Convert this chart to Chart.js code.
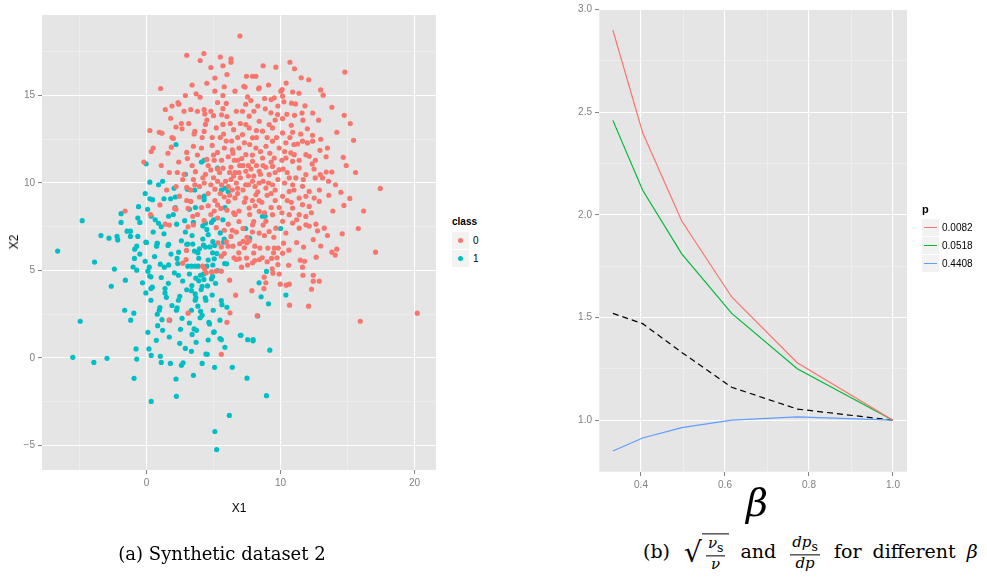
<!DOCTYPE html>
<html>
<head>
<meta charset="utf-8">
<script src="https://cdn.jsdelivr.net/npm/chart.js@4.4.1/dist/chart.umd.min.js"></script>
<style>
body { margin:0; background:#fff; width:987px; height:577px; position:relative; overflow:hidden; font-family:"Liberation Sans", Arial, sans-serif; }
canvas { position:absolute; top:0; }
#scatter { left:0; }
#ratios { left:560px; }
.lbl { position:absolute; white-space:nowrap; color:#000; }
.key { position:absolute; width:17px; height:17px; background:#F2F2F2; }
.dot { position:absolute; left:6px; top:6px; width:5px; height:5px; border-radius:50%; }
.seg { position:absolute; left:2px; top:8px; width:13px; height:1.2px; }
.leg { position:absolute; font-size:10px; color:#000; }
.cap { position:absolute; font-family:"DejaVu Serif", "Liberation Serif", serif; font-size:18px; white-space:nowrap; color:#000; }
#capb { font-size:19px; word-spacing:5px; }
.fr { display:inline-flex; flex-direction:column; vertical-align:middle; font-size:15px; text-align:center; line-height:1.1; margin:0 3px; word-spacing:0; }
.fr .nu { border-bottom:1px solid #000; padding:0 2px; }
.ovl { display:inline-block; border-top:1px solid #000; padding:1px 1px 0 1px; vertical-align:middle; }
.rt { font-size:28px; vertical-align:middle; margin-left:3px; }
</style>
</head>
<body>
<canvas id="scatter" width="440" height="530"></canvas>
<canvas id="ratios" width="427" height="530"></canvas>

<div class="lbl" style="left:14px;top:242px;transform:translate(-50%,-50%) rotate(-90deg);font-size:12px">X2</div>
<div class="lbl" style="left:239px;top:508px;transform:translate(-50%,-50%);font-size:12px">X1</div>
<div class="lbl" style="left:757px;top:503px;transform:translate(-50%,-50%);font-family:'DejaVu Serif',serif;font-style:italic;font-size:38px">β</div>

<div class="leg" style="left:452px;top:216px;font-weight:bold;font-size:10px">class</div>
<div class="key" style="left:452px;top:232px"><div class="dot" style="background:#F8766D"></div></div>
<div class="leg" style="left:473px;top:235px">0</div>
<div class="key" style="left:452px;top:250px"><div class="dot" style="background:#00BFC4"></div></div>
<div class="leg" style="left:473px;top:253px">1</div>

<div class="leg" style="left:922px;top:203px;font-weight:bold;font-size:11px">p</div>
<div class="key" style="left:922px;top:219px"><div class="seg" style="background:#F8766D"></div></div>
<div class="leg" style="left:942px;top:222px">0.0082</div>
<div class="key" style="left:922px;top:237px"><div class="seg" style="background:#00BA38"></div></div>
<div class="leg" style="left:942px;top:240px">0.0518</div>
<div class="key" style="left:922px;top:255px"><div class="seg" style="background:#619CFF"></div></div>
<div class="leg" style="left:942px;top:258px">0.4408</div>

<div class="cap" style="left:222px;top:553px;transform:translate(-50%,-50%)">(a) Synthetic dataset 2</div>
<div class="cap" id="capb" style="left:643px;top:553px;transform:translateY(-50%)">(b) <span class="rt">√</span><span class="ovl"><span class="fr"><span class="nu"><i>ν</i><sub>s</sub></span><span class="de"><i>ν</i></span></span></span> and <span class="fr"><span class="nu"><i>dp</i><sub>s</sub></span><span class="de"><i>dp</i></span></span> for different <i>β</i></div>

<script>
// scatter (a): class 0 and class 1 points
const class0 = [
  [3.0,17.3],[4.28,17.4],[4.0,17.0],[4.8,16.6],[5.5,17.2],[5.7,16.7],[6.3,17.1],[6.3,16.9],[1.05,15.4],[3.4,15.6],
  [5.8,15.5],[5.1,15.25],[5.7,15.0],[6.6,15.25],[4.0,14.9],[2.35,14.6],[2.4,14.5],[1.9,14.4],[2.8,14.1],[3.3,14.2],
  [3.8,14.1],[4.3,14.2],[4.35,13.95],[4.8,14.1],[5.3,14.6],[5.95,14.55],[5.7,14.25],[5.6,13.9],[1.8,13.7],[2.6,13.4],
  [3.15,13.4],[2.65,13.1],[4.5,13.6],[5.0,13.85],[4.4,13.35],[5.2,13.15],[5.7,13.35],[6.25,13.4],[6.5,13.05],[0.25,13.0],
  [0.95,12.9],[1.15,12.85],[1.9,12.6],[2.0,12.55],[3.6,12.95],[3.55,12.8],[4.3,12.95],[4.15,12.6],[4.9,12.6],[5.5,12.6],
  [5.75,12.8],[5.95,12.4],[6.35,12.4],[6.8,12.6],[1.85,12.05],[0.5,12.0],[0.35,11.8],[3.0,11.75],[3.5,12.1],[4.1,12.0],
  [4.9,12.15],[5.3,11.75],[5.8,12.0],[6.45,11.7],[6.8,11.3],[3.05,11.4],[3.8,11.6],[4.5,11.35],[5.05,11.3],[-0.2,11.2],
  [1.7,10.6],[2.3,10.6],[2.8,10.5],[3.65,10.65],[4.4,10.5],[4.8,10.75],[5.3,10.8],[5.45,10.6],[5.7,10.85],[6.3,10.9],
  [6.55,11.3],[6.95,11.0],[3.5,10.2],[2.7,10.2],[3.6,9.9],[4.3,10.0],[4.8,9.9],[5.3,10.1],[5.9,10.1],[6.3,10.2],
  [6.7,10.0],[3.0,9.75],[3.3,9.6],[3.95,9.8],[5.1,9.65],[6.1,9.8],[6.8,9.7],[2.45,9.25],[3.0,9.0],[3.3,8.95],
  [3.95,9.2],[5.1,9.0],[5.3,8.75],[5.8,9.2],[6.1,8.95],[6.6,9.15],[1.0,8.75],[2.1,8.55],[2.2,8.5],[3.1,8.55],
  [3.45,8.1],[3.8,8.2],[4.8,8.2],[5.05,8.4],[5.3,8.0],[5.55,8.55],[6.0,8.45],[6.5,8.3],[6.9,8.4],[-1.6,8.4],
  [0.3,8.2],[1.4,7.65],[1.7,7.6],[3.1,7.5],[3.5,7.6],[4.3,7.85],[5.2,7.45],[6.1,7.65],[6.6,8.2],[6.7,7.2],
  [6.3,6.95],[5.95,6.65],
  [6.97,18.4],[9.65,16.62],[11.04,16.53],[11.54,16.01],[14.8,16.34],[7.46,16.1],[7.91,16.1],[8.16,16.1],[10.42,15.71],[8.41,15.44],
  [8.36,15.38],[7.26,15.53],[7.36,15.48],[10.02,15.25],[10.12,15.34],[11.37,15.13],[12.99,15.32],[13.18,15.02],[7.54,14.92],[7.79,14.71],
  [8.81,14.83],[9.3,14.77],[9.53,14.87],[10.15,14.96],[10.25,14.64],[10.82,14.56],[11.12,14.52],[11.82,14.41],[13.83,14.33],[14.75,13.87],
  [7.16,14.1],[7.66,13.82],[8.01,14.1],[8.86,14.24],[9.28,14.01],[9.78,13.91],[10.47,13.93],[11.04,13.87],[10.15,13.68],[11.67,13.59],
  [12.84,13.59],[15.45,12.44],[14.68,11.47],[17.44,9.69],[14.5,9.47],[15.17,9.12],[14.73,8.72],[13.83,10.63],[13.41,10.63],[13.58,10.1],
  [12.96,10.48],[13.13,10.29],[12.59,10.29],[12.94,11.87],[12.36,11.09],[12.39,12.73],[11.39,7.42],[11.89,7.61],[12.14,7.54],[12.64,7.65],
  [13.26,7.42],[12.76,7.27],
  [9.4,13.15],[10.15,12.86],[10.9,12.9],[11.64,12.39],[12.39,12.39],[12.01,12.29],[11.27,12.23],[10.77,11.72],[11.02,11.62],[11.39,11.3],
  [11.89,11.62],[12.14,11.53],[9.53,11.43],[10.4,11.43],[10.9,11.24],[11.39,10.86],[9.4,10.95],[9.9,10.76],[10.65,10.29],[11.14,10.29],
  [11.89,10.48],[10.9,9.9],[11.64,9.81],[12.14,9.52],[10.65,9.52],[10.15,9.24],[11.39,9.14],[11.89,9.24],[12.51,9.14],[10.9,8.57],
  [11.64,8.76],[12.14,8.66],[12.89,8.95],[10.65,8.19],[11.39,8.19],[11.89,8.09],[10.15,7.81],[10.9,7.71],[9.65,7.42],[10.4,7.14],
  [9.15,7.23],[8.41,7.14],[7.91,7.61],[8.91,7.81],[9.4,8.19],[8.41,8.38],[7.66,8.57],[7.41,9.14],[8.16,9.33],[8.91,9.71],
  [9.4,9.9],[7.91,10.1],[7.41,10.67],[8.41,10.67],[9.15,10.48],[7.91,11.24],[8.66,11.43],[7.41,11.62],[8.16,12.0],[8.91,12.1],
  [9.4,12.39],[7.91,12.58],[7.16,12.77],[8.66,12.96],[7.66,13.15],[8.41,13.53],[9.15,13.34],[7.41,13.34],
  [7.2,9.6],[7.6,9.9],[8.0,10.4],[8.3,9.5],[8.7,10.1],[7.8,10.8],[8.2,11.0],[7.0,10.3],[6.8,9.4],[7.3,8.9],
  [8.6,8.9],[9.0,9.3],[9.6,9.0],[9.8,10.2],[10.2,10.8],[6.6,10.6],[7.9,9.0],[8.5,11.8],[9.2,11.7],[9.9,12.0],
  [6.9,12.0],[7.7,12.2],[9.6,13.6],[10.4,12.3],[8.0,7.8],[7.2,7.4],[6.6,8.2],[9.9,8.6],[10.5,9.0],[11.0,9.6],
  [8.8,7.0],[7.5,6.9],[9.5,6.9],[6.2,9.3],[6.5,10.4],[7.1,11.4],[7.6,11.0],[8.4,10.0],[8.9,10.9],[9.3,11.2],
  [7.4,9.9],[8.1,8.7],[8.8,8.3],[9.6,9.6],[10.3,10.0],[6.4,11.9],[7.3,12.3],[8.2,12.6],[9.7,12.6],[10.7,12.6],
  [4.6,11.0],[5.0,11.6],[5.6,11.3],[6.1,11.5],[4.2,10.3],[5.0,10.3],[5.6,9.9],[6.4,9.6],[4.6,9.4],[5.5,9.4],
  [6.2,10.6],[6.9,10.6],[7.2,11.0],[7.6,10.4],[8.1,9.8],[8.5,10.5],[7.9,11.6],[8.7,11.0],[9.1,10.0],[9.6,10.6],
  [10.1,11.3],[9.0,12.6],[8.2,13.0],[7.0,13.4],[6.0,13.8],[6.7,14.1],[7.4,14.5],[8.3,14.4],[9.8,14.4],[10.8,13.3],
  [11.5,12.8],[12.0,13.1],[11.0,12.2],[10.3,11.8],[12.6,11.3],[13.4,11.5],[13.0,12.5],[12.5,10.8],[11.7,10.2],[10.5,10.6],
  [9.3,9.4],[8.4,9.0],[7.7,8.2],[6.9,7.8],[7.9,7.2],[8.7,7.6],[9.3,8.6],[10.1,8.3],[10.8,8.9],[11.2,7.9],
  [12.3,8.3],[12.9,9.6],[13.6,9.3],[13.9,8.4],[14.1,9.9],[13.5,12.0],[14.2,12.9],[11.6,14.0],[12.4,14.0],[10.9,15.2],
  [9.1,15.6],[8.7,16.7],[6.0,16.2],[5.1,16.0],[4.5,15.7],[3.7,15.1],[2.9,15.0],[1.4,14.2],[2.2,13.2],[1.1,11.0],
  [1.6,11.7],[2.4,11.2],[3.4,11.0],[2.2,9.8],[1.5,9.6],[4.6,8.7],[4.1,8.6],[5.8,7.3],[6.4,7.3],[7.3,6.3],
  [8.0,6.0],[9.0,5.5],[8.9,4.3],[9.9,4.8],[10.6,5.3],[11.2,6.6],[13.0,6.4],[13.5,7.0],[14.6,7.1],[15.8,7.4],
  [15.6,10.6],[16.2,8.4],[14.9,11.0],[15.2,13.4],[10.7,16.9],[12.1,15.9],
  [2.98,6.15],[2.95,5.63],[2.7,5.42],[3.1,2.56],[1.68,2.16],[6.2,4.45],[6.65,3.59],[6.23,2.58],[6.0,2.04],[5.58,0.21],
  [4.18,5.25],[4.33,5.1],[4.45,4.87],[4.85,4.92],[5.2,4.96],[5.58,4.96],[5.58,5.82],[5.8,5.97],[6.08,6.39],[6.53,5.73],
  [6.7,5.63],[6.88,6.01],[6.95,6.53],[6.45,6.39],[5.58,6.35],[5.33,6.58],
  [17.09,6.05],[20.2,2.56],[15.95,2.1],[13.83,6.05],[14.2,6.22],[14.08,5.88],[12.66,5.76],[11.47,5.59],[11.79,5.53],[11.64,5.19],
  [11.67,4.73],[12.44,4.73],[12.44,4.39],[12.89,4.39],[12.31,3.93],[12.09,2.96],[10.67,3.02],[9.98,4.22],[10.42,4.16],[10.65,4.22],
  [10.62,6.16],[10.15,5.99],[10.22,6.56],[9.53,6.28],[9.83,6.28],[9.48,6.01],[9.73,5.73],[9.8,5.34],[9.33,5.69],[8.78,4.62],
  [8.76,3.97],[7.86,3.85],[8.26,2.42],[8.43,5.63],[8.08,5.57],[7.91,5.44],[7.54,5.31],[7.09,5.19],[6.92,5.67],[7.46,5.71],
  [8.63,5.73],[9.05,6.28],[8.46,6.28],[8.08,6.39],[7.49,6.58],[7.21,6.66],[7.66,6.7],[9.38,5.1],[9.43,4.85],[11.72,6.34],
  [12.44,6.77]
];
const class1 = [
  [2.2,12.2],[-0.03,11.1],[4.1,11.2],[4.3,11.3],[5.3,10.85],[2.9,10.5],[0.25,10.05],[0.9,9.9],[1.2,10.1],[2.05,9.7],
  [3.05,9.65],[3.6,9.6],[5.6,9.6],[5.85,9.7],[6.1,9.5],[-0.1,9.4],[0.25,9.1],[0.45,9.05],[1.3,9.1],[1.8,9.1],
  [2.15,9.2],[4.3,9.25],[4.3,9.05],[-0.6,8.65],[0.08,8.5],[2.15,8.6],[3.2,8.5],[3.65,8.6],[5.85,8.6],[-1.9,8.25],
  [-0.65,8.0],[-0.5,7.75],[0.35,8.1],[0.65,7.9],[0.9,7.7],[1.1,7.5],[2.0,8.2],[1.65,8.1],[2.25,7.65],[2.85,7.85],
  [3.5,7.75],[4.4,7.7],[4.85,7.75],[5.0,7.9],[5.7,7.9],[-4.8,7.85],[-1.9,7.75],[4.2,7.55],[4.5,7.35],[4.6,7.05],
  [5.5,7.15],[5.8,6.8],[-3.4,7.0],[-2.8,6.85],[-2.2,6.95],[-2.15,6.75],[-1.45,7.25],[-1.2,7.25],[-1.2,6.95],[-0.65,6.95],
  [1.3,7.1],[0.0,6.6],[0.8,6.55],[1.65,6.5],[3.0,6.5],[4.95,6.65],[2.9,7.2],
  [8.95,4.95],[8.4,4.3],[8.55,3.5],[10.4,3.6],[9.1,3.1],[8.3,2.4],[7.05,1.3],[7.55,1.05],[7.95,1.05],[7.95,0.98],
  [9.2,0.45],[7.5,-1.15],[8.95,-2.15],[8.65,8.1],[8.85,8.1],[7.4,7.4],[10.0,7.4],[7.7,6.85],
  [-0.73,5.02],[-0.1,5.53],[0.2,5.19],[0.1,4.96],[0.23,4.68],[0.33,4.64],[-0.88,6.22],[-0.73,6.39],[-0.5,5.94],[-0.9,5.69],
  [-0.05,6.62],[0.75,6.39],[0.8,6.55],[1.6,6.43],[1.03,5.36],[1.33,5.19],[1.65,5.32],[1.83,5.94],[2.28,5.69],[2.33,5.4],
  [2.4,6.05],[2.08,4.87],[2.38,4.73],[1.63,4.27],[1.38,3.97],[1.38,3.72],[1.48,3.47],[1.0,2.88],[0.95,2.73],[0.8,2.5],
  [1.15,2.19],[1.73,2.16],[0.83,1.85],[1.2,1.58],[2.38,3.3],[2.48,3.53],[2.23,2.73],[2.28,2.86],[2.65,2.27],[2.53,1.64],
  [2.48,0.84],[2.9,0.55],[3.35,0.38],[2.73,-0.27],[2.6,-0.42],[1.78,-0.31],[2.2,-1.2],[2.23,-2.19],[3.5,-0.99],[3.08,5.25],
  [3.35,5.25],[3.63,5.25],[3.85,5.25],[4.03,4.73],[3.9,4.41],[3.68,4.56],[3.38,4.14],[3.35,3.85],[3.63,3.66],[3.63,3.3],
  [3.68,3.44],[4.08,3.91],[4.15,4.1],[4.25,4.79],[4.5,5.25],[4.28,4.48],[4.55,4.12],[4.38,3.44],[4.43,3.3],[3.35,2.73],
  [3.83,2.96],[4.03,2.67],[4.15,2.44],[4.98,2.73],[4.65,2.04],[4.7,1.95],[3.55,1.66],[3.73,1.58],[3.4,1.35],[4.6,1.03],
  [5.0,1.47],[5.05,1.49],[5.48,1.11],[5.58,1.05],[5.85,0.61],[5.48,2.16],[5.58,3.28],[5.63,3.05],[6.0,2.9],[5.15,4.27],
  [4.93,4.66],[4.85,4.52],[4.53,0.21],[4.43,0.23],[4.15,-0.31],[5.08,-0.53],[6.4,-0.53],[6.18,-3.28],[5.1,-4.2],[5.23,-5.23],
  [7.0,1.3],[3.08,6.51],[3.45,6.51],[3.58,6.11],[3.83,6.01],[3.95,6.24],[4.25,6.45],[4.4,6.34],[4.73,6.35],[4.93,6.01],
  [5.05,5.67],[4.95,5.31],[5.08,6.43],[5.25,5.97],[5.75,6.62],[5.83,5.4],[5.98,5.38],
  [-6.63,6.11],[-3.88,5.48],[-2.4,5.08],[-1.58,4.45],[-2.63,4.1],[-4.95,2.1],[-5.5,0.04],[-3.93,-0.25],[-2.95,-0.02],[-1.63,2.73],
  [-0.95,2.56],[-1.18,2.16],[-0.78,0.52],[-0.73,-0.06],[-0.93,-1.16],[0.35,-2.48],[0.1,1.47],[0.73,1.01],[0.18,0.52],[0.35,0.15],
  [1.03,0.1],[1.1,-0.25],[-0.05,3.72],[0.33,3.97],[0.43,4.05],[0.33,3.3],
  [3.2,4.8],[3.9,5.7],[4.6,5.6],[3.0,3.9],[2.7,4.4],[4.0,2.3],[3.2,2.0],[1.9,3.0],[1.7,1.2],[3.7,0.9],
  [4.9,3.6],[0.6,5.8],[-0.3,4.3],[1.1,4.6],[2.6,6.7],[3.4,7.0],[0.5,7.2],[-1.0,5.2],[5.3,5.0],[4.2,6.8]
];
const x1Ticks = [-5, 0, 5, 10, 15, 20];
const x2Ticks = [-5, -2.5, 0, 2.5, 5, 7.5, 10, 12.5, 15, 17.5];

// lines (b)
const beta = [0.333, 0.404, 0.497, 0.616, 0.772, 1.0];
const p0082 = [2.90, 2.40, 1.97, 1.60, 1.28, 1.0];
const p0518 = [2.46, 2.12, 1.81, 1.52, 1.25, 1.0];
const p4408 = [0.85, 0.913, 0.964, 1.0, 1.016, 1.0];
const ratio = [1.52, 1.47, 1.33, 1.16, 1.054, 1.0];
const betaTicks = [0.3, 0.4, 0.5, 0.6, 0.7, 0.8, 0.9, 1.0];
const yTicks = [0.75, 1.0, 1.25, 1.5, 1.75, 2.0, 2.25, 2.5, 2.75, 3.0];

const panelBg = {
  id: 'panelBg',
  beforeDraw(chart) {
    const a = chart.chartArea, ctx = chart.ctx;
    ctx.save();
    ctx.fillStyle = '#E5E5E5';
    ctx.fillRect(a.left, a.top, a.right - a.left, a.bottom - a.top);
    ctx.restore();
  }
};

function gg(tickVals, isMajor, fmt, min, max, size, horiz) {
  return {
    type: 'linear', min: min, max: max,
    afterBuildTicks: s => { s.ticks = tickVals.map(v => ({ value: v })); },
    afterFit: s => { if (horiz) s.height = size; else s.width = size; },
    border: { display: false },
    grid: {
      color: c => c.tick && isMajor(c.tick.value) ? '#ffffff' : '#F2F2F2',
      lineWidth: c => c.tick && isMajor(c.tick.value) ? 1.1 : 0.6,
      tickColor: c => c.tick && isMajor(c.tick.value) ? '#7f7f7f' : 'rgba(0,0,0,0)',
      tickLength: 4,
      tickWidth: 1
    },
    ticks: {
      color: '#7f7f7f', padding: 3, autoSkip: false, maxRotation: 0,
      font: { family: 'Liberation Sans', size: 10 },
      callback: v => isMajor(v) ? fmt(v) : ''
    }
  };
}

const near = (v, step) => Math.abs(v / step - Math.round(v / step)) < 1e-6;
const minus = v => String(v).replace('-', '\u2212');

Chart.defaults.animation = false;

new Chart(document.getElementById('scatter'), {
  type: 'scatter',
  data: {
    datasets: [
      { label: '0', data: class0.map(p => ({ x: p[0], y: p[1] })), backgroundColor: '#F8766D', borderWidth: 0, pointRadius: 2.6 },
      { label: '1', data: class1.map(p => ({ x: p[0], y: p[1] })), backgroundColor: '#00BFC4', borderWidth: 0, pointRadius: 2.6 }
    ]
  },
  options: {
    responsive: false, devicePixelRatio: 1,
    layout: { padding: { top: 15, right: 3, left: 0, bottom: 0 } },
    plugins: { legend: { display: false }, tooltip: { enabled: false } },
    scales: {
      x: gg(x1Ticks, v => near(v, 10), minus, -7.8, 21.6, 60, true),
      y: gg(x2Ticks, v => near(v, 5), minus, -6.4, 19.6, 42, false)
    }
  },
  plugins: [panelBg]
});

const line = (vals, color, dash) => ({
  data: beta.map((b, i) => ({ x: b, y: vals[i] })),
  borderColor: color, borderWidth: 1.2, borderDash: dash || [],
  showLine: true, pointRadius: 0, fill: false
});

new Chart(document.getElementById('ratios'), {
  type: 'scatter',
  data: {
    datasets: [
      line(p0082, '#F8766D'),
      line(p0518, '#00BA38'),
      line(p4408, '#619CFF'),
      line(ratio, '#000000', [6, 4])
    ]
  },
  options: {
    responsive: false, devicePixelRatio: 1,
    layout: { padding: { top: 6, right: 80, left: 0, bottom: 0 } },
    plugins: { legend: { display: false }, tooltip: { enabled: false } },
    scales: {
      x: gg(betaTicks, v => near(v, 0.2), v => v.toFixed(1), 0.3, 1.0333, 58, true),
      y: gg(yTicks, v => near(v, 0.5), v => v.toFixed(1), 0.7475, 3.0025, 39, false)
    }
  },
  plugins: [panelBg]
});
</script>
</body>
</html>
